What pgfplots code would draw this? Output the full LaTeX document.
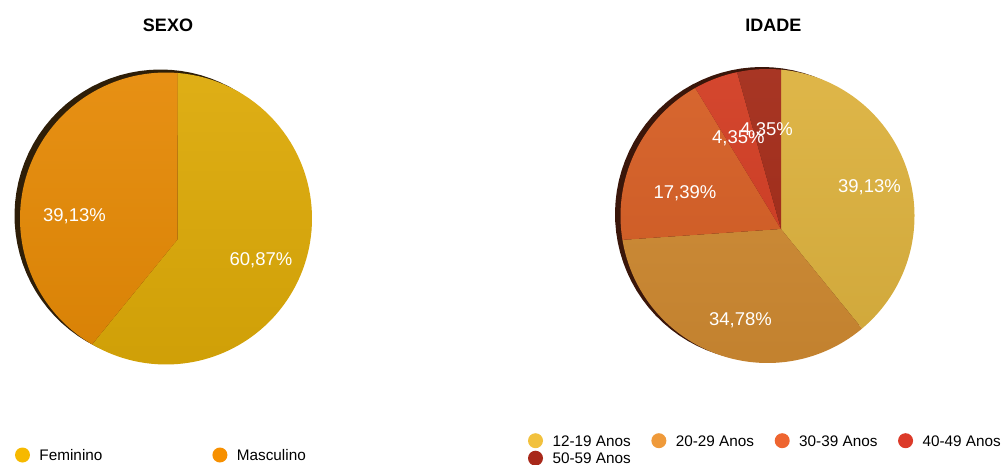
\documentclass[border=0pt]{standalone}
\usepackage{fontspec}
\setmainfont{Liberation Sans}
\usepackage{pgfplots}
\pgfplotsset{compat=1.18}

\definecolor{femS}{HTML}{DDAA08}
\definecolor{masS}{HTML}{E68A06}
\definecolor{femL}{HTML}{F6B900}
\definecolor{masL}{HTML}{F79000}
\definecolor{aS}{HTML}{DDB23E}
\definecolor{bS}{HTML}{CF8A32}
\definecolor{cS}{HTML}{D65E24}
\definecolor{dS}{HTML}{D23C22}
\definecolor{eS}{HTML}{A32A17}
\definecolor{aL}{HTML}{F2C13D}
\definecolor{bL}{HTML}{EF9A3A}
\definecolor{cL}{HTML}{EE6530}
\definecolor{dL}{HTML}{DC3A29}
\definecolor{eL}{HTML}{A8281A}
\definecolor{shL}{HTML}{2E1E08}
\definecolor{shR}{HTML}{3A160A}

% #1 cx, #2 cy, #3 R, #4 apex x, #5 apex y, #6 start %, #7 end %, #8 style
\newcommand{\pieslice}[8]{%
  \pgfmathsetmacro\thA{90-3.6*#7}%
  \pgfmathsetmacro\thB{90-3.6*#6}%
  \pgfmathsetmacro\ddx{#4-#1}%
  \pgfmathsetmacro\ddy{#5-#2}%
  \addplot[forget plot, draw=none, #8, domain=\thA:\thB, samples=90, variable=\t]
    ({#4+(-(\ddx*cos(\t)+\ddy*sin(\t))+sqrt((\ddx*cos(\t)+\ddy*sin(\t))*(\ddx*cos(\t)+\ddy*sin(\t))-\ddx*\ddx-\ddy*\ddy+#3*#3))*cos(\t)},
     {#5+(-(\ddx*cos(\t)+\ddy*sin(\t))+sqrt((\ddx*cos(\t)+\ddy*sin(\t))*(\ddx*cos(\t)+\ddy*sin(\t))-\ddx*\ddx-\ddy*\ddy+#3*#3))*sin(\t)})
    -- (axis cs:#4,#5) -- cycle;
}

\pgfplotsset{
  pieaxis/.style={
    at={(0pt,0pt)}, anchor=south west,
    scale only axis, width=1004pt, height=464pt,
    xmin=0, xmax=1004, ymin=0, ymax=464,
    hide axis, clip=false,
    legend image code/.code={\fill[##1, draw=none] (7.5pt,5.5pt) circle (7.5pt);},
  },
}
\tikzset{
  lab/.style={text=white, font=\fontsize{18.5}{20}\selectfont, inner sep=0pt},
  ttl/.style={font=\bfseries\fontsize{18}{20}\selectfont, inner sep=0pt},
  gloss/.style={top color=white, bottom color=black, fill opacity=0.06},
}

\begin{document}
\begin{tikzpicture}
% ---------- SEXO ----------
\begin{axis}[pieaxis,
  legend columns=2,
  legend style={at={(15/1004,16.5/464)}, anchor=north west, draw=none, fill=none,
    inner sep=0pt, outer sep=0pt, nodes={inner sep=0pt, anchor=base west},
    font=\fontsize{15.3}{18}\selectfont,
    /tikz/every odd column/.append style={column sep=9.5pt},
    /tikz/every even column/.append style={column sep=110pt}},
]
\pieslice{160.5}{248.5}{146}{160.5}{248.5}{0}{100}{fill=shL}
\pieslice{166}{245.5}{146}{177.5}{224.5}{0}{60.87}{fill=femS}
\pieslice{166}{245.5}{146}{177.5}{224.5}{60.87}{100}{fill=masS}
\pieslice{166}{245.5}{146}{166}{245.5}{0}{100}{gloss}
\addlegendimage{fill=femL}\addlegendentry{Feminino}
\addlegendimage{fill=masL}\addlegendentry{Masculino}
\node[ttl] at (axis cs:168,439) {SEXO};
\node[lab] at (axis cs:74.5,248) {39,13\%};
\node[lab] at (axis cs:261,204) {60,87\%};
\end{axis}
% ---------- IDADE ----------
\begin{axis}[pieaxis,
  legend columns=4,
  legend style={at={(528/1004,30.8/464)}, anchor=north west, draw=none, fill=none,
    inner sep=0pt, outer sep=0pt, nodes={inner sep=0pt, anchor=base west},
    font=\fontsize{15.3}{18}\selectfont, row sep=2.5pt,
    /tikz/every odd column/.append style={column sep=9.5pt},
    /tikz/every even column/.append style={column sep=20.6pt}},
]
\pieslice{762}{250}{147}{762}{250}{0}{100}{fill=shR}
\pieslice{767.5}{248}{147}{781}{235}{0}{39.13}{fill=aS}
\pieslice{767.5}{248}{147}{781}{235}{39.13}{73.91}{fill=bS}
\pieslice{767.5}{248}{147}{781}{235}{73.91}{91.30}{fill=cS}
\pieslice{767.5}{248}{147}{781}{235}{91.30}{95.65}{fill=dS}
\pieslice{767.5}{248}{147}{781}{235}{95.65}{100}{fill=eS}
\pieslice{767.5}{248}{147}{767.5}{248}{0}{100}{gloss}
\addlegendimage{fill=aL}\addlegendentry{12-19 Anos}
\addlegendimage{fill=bL}\addlegendentry{20-29 Anos}
\addlegendimage{fill=cL}\addlegendentry{30-39 Anos}
\addlegendimage{fill=dL}\addlegendentry{40-49 Anos}
\addlegendimage{fill=eL}\addlegendentry{50-59 Anos}
\node[ttl] at (axis cs:773.3,439) {IDADE};
\node[lab] at (axis cs:869.5,277) {39,13\%};
\node[lab] at (axis cs:740.5,143.7) {34,78\%};
\node[lab] at (axis cs:685,270.7) {17,39\%};
\node[lab] at (axis cs:738.3,325.7) {4,35\%};
\node[lab] at (axis cs:766.7,334) {4,35\%};
\end{axis}
\pgfresetboundingbox
\path[use as bounding box] (0pt,0pt) rectangle (1004pt,464pt);
\end{tikzpicture}
\end{document}
